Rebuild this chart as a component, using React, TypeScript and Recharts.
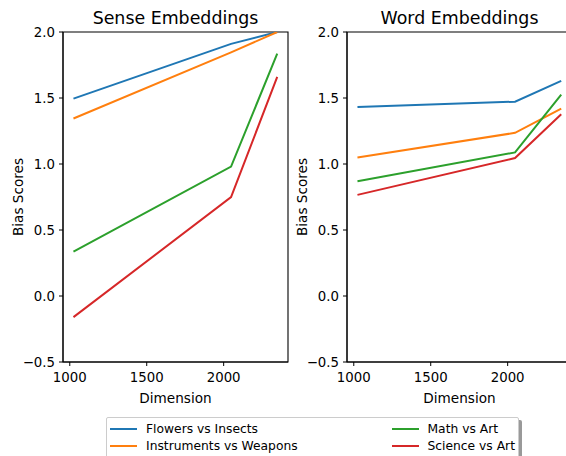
import React from "react";
import { LineChart, Line, XAxis, YAxis, ReferenceArea } from "recharts";

const dimensions = [1024, 2048, 2348];

const seriesNames = ["Flowers vs Insects", "Instruments vs Weapons", "Math vs Art", "Science vs Art"];
const seriesKeys = ["flowers", "instruments", "math", "science"];
const seriesColors = ["#1f77b4", "#ff7f0e", "#2ca02c", "#d62728"];

// Sense embeddings
const senseFlowers = [1.495, 1.91, 2.0];
const senseInstruments = [1.345, 1.846, 2.0];
const senseMath = [0.336, 0.98, 1.836];
const senseScience = [-0.16, 0.749, 1.66];

// Word embeddings
const wordFlowers = [1.432, 1.472, 1.63];
const wordInstruments = [1.05, 1.236, 1.42];
const wordMath = [0.87, 1.088, 1.525];
const wordScience = [0.766, 1.045, 1.377];

const xTicks = [1000, 1500, 2000];
const yTicks = [-0.5, 0, 0.5, 1, 1.5, 2];

const buildData = (cols: number[][]) =>
  dimensions.map((d, i) => {
    const row: Record<string, number> = { dim: d };
    seriesKeys.forEach((k, j) => (row[k] = cols[j][i]));
    return row;
  });

const senseData = buildData([senseFlowers, senseInstruments, senseMath, senseScience]);
const wordData = buildData([wordFlowers, wordInstruments, wordMath, wordScience]);

const FONT = "DejaVu Sans";
const xDomain = [956, 2418];
const yDomain = [-0.5, 2];

const fmtY = (v: number) => (v < 0 ? "\u2212" + Math.abs(v).toFixed(1) : v.toFixed(1));

const Panel = ({ data, left }: { data: Record<string, number>[]; left: number }) => (
  <div style={{ position: "absolute", left, top: 0 }}>
    <LineChart
      width={300}
      height={456}
      data={data}
      margin={{ top: 32, right: 12, left: 0, bottom: 64 }}
    >
      <XAxis
        dataKey="dim"
        type="number"
        domain={xDomain}
        ticks={xTicks}
        allowDataOverflow
        height={30}
        tickSize={4}
        tickMargin={7}
        stroke="#000"
        tick={{ fill: "#000", fontSize: 13.3, fontFamily: FONT }}
      />
      <YAxis
        type="number"
        domain={yDomain}
        ticks={yTicks}
        allowDataOverflow
        width={63}
        tickSize={4}
        tickMargin={4}
        stroke="#000"
        tickFormatter={fmtY}
        tick={{ fill: "#000", fontSize: 13.3, fontFamily: FONT }}
      />
      <ReferenceArea
        x1={xDomain[0]}
        x2={xDomain[1]}
        y1={yDomain[0]}
        y2={yDomain[1]}
        fill="none"
        stroke="#000"
        strokeWidth={1.1}
      />
      {seriesKeys.map((k, i) => (
        <Line
          key={k}
          dataKey={k}
          stroke={seriesColors[i]}
          strokeWidth={2}
          dot={false}
          isAnimationActive={false}
        />
      ))}
    </LineChart>
  </div>
);

export default function App() {
  return (
    <div
      style={{
        position: "absolute",
        left: 0,
        top: 0,
        width: 566,
        height: 456,
        overflow: "hidden",
        background: "#fff",
        fontFamily: FONT,
      }}
    >
      <Panel data={senseData} left={0} />
      <Panel data={wordData} left={284} />
      <svg
        width={566}
        height={456}
        style={{ position: "absolute", left: 0, top: 0, pointerEvents: "none" }}
      >
        <g fontFamily={FONT} fill="#000">
          <text x={175.5} y={24} fontSize={17.4} textAnchor="middle">Sense Embeddings</text>
          <text x={459.5} y={24} fontSize={17.4} textAnchor="middle">Word Embeddings</text>
          <text x={175.5} y={403} fontSize={13.6} textAnchor="middle">Dimension</text>
          <text x={459.5} y={403} fontSize={13.6} textAnchor="middle">Dimension</text>
          <text transform="translate(23,197) rotate(-90)" fontSize={13.6} textAnchor="middle">Bias Scores</text>
          <text transform="translate(307,197) rotate(-90)" fontSize={13.6} textAnchor="middle">Bias Scores</text>
        </g>
      </svg>
      <div
        style={{
          position: "absolute",
          left: 106,
          top: 417,
          width: 413,
          height: 50,
          boxSizing: "border-box",
          border: "1px solid #cccccc",
          borderRadius: 2,
          background: "#fff",
          boxShadow: "3px 3px 0 #999999",
        }}
      >
        {seriesNames.map((name, i) => {
          const col = i < 2 ? 0 : 1;
          const row = i % 2;
          const x = col === 0 ? 3 : 284.5;
          const y = row === 0 ? 10.5 : 27.5;
          return (
            <div
              key={name}
              style={{ position: "absolute", left: x, top: y - 7, height: 14, display: "flex", alignItems: "center" }}
            >
              <div style={{ width: 27, height: 2, background: seriesColors[i] }} />
              <span style={{ marginLeft: 9, fontSize: 12.3, lineHeight: "14px", whiteSpace: "nowrap" }}>{name}</span>
            </div>
          );
        })}
      </div>
    </div>
  );
}
